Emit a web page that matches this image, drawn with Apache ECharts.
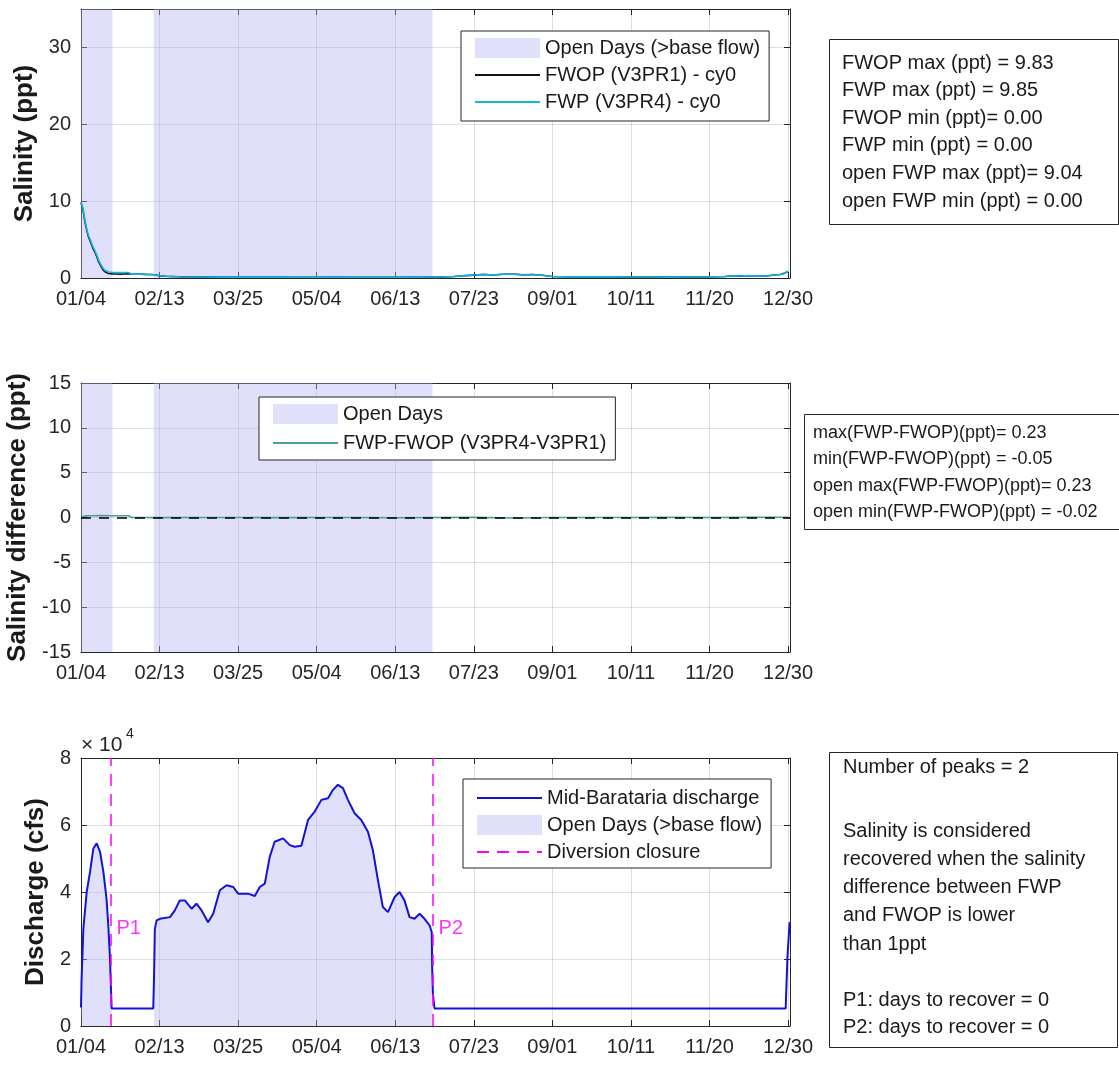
<!DOCTYPE html>
<html><head><meta charset="utf-8">
<script src="https://cdn.jsdelivr.net/npm/echarts@6/dist/echarts.min.js"></script>
<style>html,body{margin:0;padding:0;background:#fff}#c{width:1119px;height:1067px}</style>
</head><body><div id="c"></div><script>
// ---------------- DATA ----------------
const tickLabels = ['01/04','02/13','03/25','05/04','06/13','07/23','09/01','10/11','11/20','12/30'];
// days counted from 01/04
const openStart = [0, 37];
const openEnd = [16, 179];
const closureDays = [15, 179];
const peakNames = ['P1', 'P2'];

const salDays = [0,1,2,3,4,5,6,7,8,9,10,11,12,13,14,15,16,18,20,22,24,26,28,30,33,36,38,40,43,46,50,60,70,80,90,100,110,120,130,140,150,160,170,180,185,190,195,200,205,210,215,220,225,230,235,240,250,260,270,280,290,300,310,320,328,332,336,340,345,350,353,356,358,360];
const fwopVals = [9.83,8.9,7.3,6.1,5.2,4.6,3.9,3.4,2.8,2.1,1.6,1.15,0.85,0.65,0.58,0.55,0.54,0.52,0.5,0.53,0.55,0.5,0.48,0.5,0.47,0.45,0.38,0.3,0.22,0.2,0.16,0.14,0.12,0.12,0.11,0.12,0.1,0.1,0.11,0.1,0.1,0.1,0.12,0.13,0.14,0.2,0.3,0.38,0.45,0.4,0.48,0.5,0.42,0.45,0.35,0.2,0.15,0.14,0.14,0.13,0.13,0.12,0.13,0.14,0.2,0.3,0.25,0.3,0.25,0.3,0.4,0.45,0.6,0.85];
const fwpVals  = [9.85,9.05,7.5,6.3,5.4,4.8,4.1,3.6,3.0,2.3,1.8,1.35,1.05,0.85,0.78,0.75,0.73,0.71,0.7,0.72,0.72,0.5,0.48,0.5,0.47,0.45,0.37,0.3,0.22,0.2,0.16,0.13,0.12,0.12,0.11,0.11,0.1,0.1,0.11,0.1,0.1,0.09,0.12,0.13,0.14,0.2,0.31,0.4,0.47,0.4,0.5,0.52,0.4,0.45,0.33,0.2,0.15,0.14,0.14,0.13,0.13,0.12,0.13,0.14,0.2,0.3,0.26,0.31,0.25,0.3,0.4,0.46,0.62,0.87];

const diffDays = [0,2,5,10,15,20,24,25,26,30,40,60,80,100,120,140,160,180,200,220,240,260,280,300,320,340,360];
const diffVals = [0.02,0.18,0.2,0.23,0.2,0.2,0.19,0.1,0.0,0.0,-0.01,0.0,0.0,-0.01,0.0,0.0,-0.02,0.0,0.01,-0.05,0.0,0.0,0.0,0.01,0.0,0.01,0.02];

const dischargeDays = [0,0.3,1.2,2.9,4.6,6.3,8,9.7,11.4,13,13.9,14.7,15.6,36.8,37.2,37.6,38.5,40.2,45.3,47.8,50.3,52.9,56.3,58.8,61.4,64.7,67.3,70.7,74.1,77.5,80,85.1,88.5,91,93.6,96.1,98.6,102.9,106.3,108.8,112.2,115.6,119,122.4,125.8,128.3,130.8,133.4,135.9,139.3,142.7,146.1,148.6,151.2,153.7,156.3,159.7,162.2,164.7,167.3,169.8,172.4,174.9,177.5,178.6,178.8,179.2,180,358.8,359.7,360.8];
const dischargeVals = [5500,14000,29000,40000,46000,53000,54500,52000,46000,38000,30000,21000,5200,5200,15000,29000,31500,32000,32500,34500,37500,37500,35000,36500,34500,31000,33500,40500,42000,41500,39500,39500,38800,41500,42500,50500,55000,56000,54000,53500,53800,61500,64000,67500,68000,70500,72000,71000,67500,63500,61500,58000,52500,43500,35500,34000,38500,40000,37500,32500,32000,33500,32000,30000,28000,17500,9500,5200,5200,20500,31000];

const box1Lines = ['FWOP max (ppt) = 9.83','FWP max (ppt) = 9.85','FWOP min (ppt)= 0.00','FWP min (ppt) = 0.00','open FWP max (ppt)= 9.04','open FWP min (ppt) = 0.00'];
const box2Lines = ['max(FWP-FWOP)(ppt)= 0.23','min(FWP-FWOP)(ppt) = -0.05','open max(FWP-FWOP)(ppt)= 0.23','open min(FWP-FWOP)(ppt) = -0.02'];
const box3Head = ['Number of peaks = 2'];
const box3Body = ['Salinity is considered','recovered when the salinity','difference between FWP','and FWOP is lower','than 1ppt'];
const box3Tail = ['P1: days to recover = 0','P2: days to recover = 0'];

// ---------------- STYLE ----------------
const FONT = '"Liberation Sans", Arial, Helvetica, sans-serif';
const axisColor = '#262626';
const gridColor = 'rgba(38,38,38,0.15)';
const shadeColor = 'rgba(178,178,242,0.4)';
const shadeLegend = '#e0e0fa';
const xMax = 361;
const grids = [
  {left: 81, top: 9, width: 709, height: 269, outerBoundsMode: 'none', containLabel: false},
  {left: 81, top: 383, width: 709, height: 269, outerBoundsMode: 'none', containLabel: false},
  {left: 81, top: 758, width: 709, height: 268, outerBoundsMode: 'none', containLabel: false}
];
const zip = (a, b) => a.map((d, i) => [d, b[i]]);

function xAxesFor(gi) {
  return [
    {type: 'value', gridIndex: gi, min: 0, max: xMax, interval: 40, position: 'bottom',
     axisLine: {onZero: false, lineStyle: {color: axisColor, width: 1}},
     axisTick: {inside: true, length: 6, lineStyle: {color: axisColor}},
     axisLabel: {margin: 11, fontSize: 20, color: axisColor, fontFamily: FONT,
       formatter: v => (v % 40 === 0 && tickLabels[v / 40] !== undefined) ? tickLabels[v / 40] : ''},
     splitLine: {show: true, lineStyle: {color: gridColor, width: 1}}},
    {type: 'value', gridIndex: gi, min: 0, max: xMax, interval: 40, position: 'top',
     axisLine: {onZero: false, lineStyle: {color: axisColor, width: 1}},
     axisTick: {inside: true, length: 6, lineStyle: {color: axisColor}},
     axisLabel: {show: false}, splitLine: {show: false}}
  ];
}
function yAxesFor(gi, min, max, interval, name, nameGap, fmt) {
  return [
    {type: 'value', gridIndex: gi, min, max, interval, position: 'left',
     name, nameLocation: 'middle', nameGap,
     nameTextStyle: {fontSize: 26, fontWeight: 'bold', color: '#1a1a1a', fontFamily: FONT},
     axisLine: {show: true, onZero: false, lineStyle: {color: axisColor, width: 1}},
     axisTick: {show: true, inside: true, length: 6, lineStyle: {color: axisColor}},
     axisLabel: {margin: 10, fontSize: 20, color: axisColor, fontFamily: FONT,
       formatter: v => ((v - min) % interval === 0) ? (fmt ? fmt(v) : String(v)) : ''},
     splitLine: {show: true, lineStyle: {color: gridColor, width: 1}}},
    {type: 'value', gridIndex: gi, min, max, interval, position: 'right',
     axisLine: {show: true, onZero: false, lineStyle: {color: axisColor, width: 1}},
     axisTick: {show: true, inside: true, length: 6, lineStyle: {color: axisColor}},
     axisLabel: {show: false}, splitLine: {show: false}}
  ];
}

const xAxis = [].concat(xAxesFor(0), xAxesFor(1), xAxesFor(2));
const yAxis = [].concat(
  yAxesFor(0, 0, 35, 10, 'Salinity (ppt)', 42),
  yAxesFor(1, -15, 15, 5, 'Salinity difference (ppt)', 43),
  yAxesFor(2, 0, 80000, 20000, 'Discharge (cfs)', 28, v => String(v / 10000))
);

const openAreas = openStart.map((s, i) => [{xAxis: s}, {xAxis: openEnd[i]}]);

// open-days fill under the discharge curve
const openFill = [];
openStart.forEach((s, k) => {
  dischargeDays.forEach((d, i) => {
    if (d >= s && d <= openEnd[k]) openFill.push([d, dischargeVals[i]]);
  });
  openFill.push([openEnd[k] + 0.5, null]);
});

const labelY = 29000;
const hideSym = {opacity: 0};

const series = [
  // plot 1
  {name: 'Open Days (>base flow)', type: 'line', xAxisIndex: 0, yAxisIndex: 0, data: [], symbol: 'none',
   itemStyle: {color: shadeLegend}, lineStyle: {width: 0},
   markArea: {silent: true, itemStyle: {color: shadeColor}, data: openAreas}},
  {name: 'FWOP (V3PR1) - cy0', type: 'line', xAxisIndex: 0, yAxisIndex: 0, data: zip(salDays, fwopVals),
   symbol: 'none', lineStyle: {color: '#111111', width: 1.6}, itemStyle: {color: '#111111'}, z: 3},
  {name: 'FWP (V3PR4) - cy0', type: 'line', xAxisIndex: 0, yAxisIndex: 0, data: zip(salDays, fwpVals),
   symbol: 'none', lineStyle: {color: '#12b4e8', width: 1.6}, itemStyle: {color: '#12b4e8'}, z: 4},
  // plot 2
  {name: 'Open Days', type: 'line', xAxisIndex: 2, yAxisIndex: 2, data: [], symbol: 'none',
   itemStyle: {color: shadeLegend}, lineStyle: {width: 0},
   markArea: {silent: true, itemStyle: {color: shadeColor}, data: openAreas}},
  {name: 'FWP-FWOP (V3PR4-V3PR1)', type: 'line', xAxisIndex: 2, yAxisIndex: 2, data: zip(diffDays, diffVals),
   symbol: 'none', lineStyle: {color: '#4a9f96', width: 1.6}, itemStyle: {color: '#4a9f96'}, z: 3,
   markLine: {silent: true, symbol: 'none', label: {show: false},
     lineStyle: {color: '#000', type: [10, 8], width: 1.5}, data: [{yAxis: 0}]}},
  // plot 3
  {name: 'Open Days (>base flow)', type: 'line', xAxisIndex: 4, yAxisIndex: 4, data: openFill, symbol: 'none',
   connectNulls: false, lineStyle: {width: 0}, itemStyle: {color: shadeLegend},
   areaStyle: {color: shadeColor, opacity: 1}, z: 1},
  {name: 'Mid-Barataria discharge', type: 'line', xAxisIndex: 4, yAxisIndex: 4, data: zip(dischargeDays, dischargeVals),
   symbol: 'none', lineStyle: {color: '#1212d8', width: 2}, itemStyle: {color: '#1212d8'}, z: 3},
  {name: 'Diversion closure', type: 'line', xAxisIndex: 4, yAxisIndex: 4, data: [], symbol: 'none',
   lineStyle: {color: '#ff00ff', type: [12, 8], width: 1.5}, itemStyle: {color: '#ff00ff'},
   markLine: {silent: true, symbol: 'none', label: {show: false},
     lineStyle: {color: '#ff00ff', type: [12, 8], width: 1.5},
     data: closureDays.map(d => ({xAxis: d}))}},
  {name: 'peakLabels', type: 'scatter', xAxisIndex: 4, yAxisIndex: 4, symbolSize: 0, silent: true,
   data: closureDays.map((d, i) => ({name: peakNames[i], value: [d, labelY]})),
   label: {show: true, position: 'right', distance: 6, formatter: '{b}', color: '#ff00ff', fontSize: 20, fontFamily: FONT}}
];

const legendBase = {orient: 'vertical', itemWidth: 65, itemHeight: 20, itemGap: 7, selectedMode: false,
  backgroundColor: '#fff', borderColor: axisColor, borderWidth: 1, borderRadius: 0,
  textStyle: {fontSize: 20, color: '#1a1a1a', fontFamily: FONT}};
const legend = [
  Object.assign({}, legendBase, {left: 461, top: 31, padding: [7, 9, 9, 13],
    data: [{name: 'Open Days (>base flow)', icon: 'rect', itemStyle: {color: shadeLegend}},
           {name: 'FWOP (V3PR1) - cy0', itemStyle: hideSym}, {name: 'FWP (V3PR4) - cy0', itemStyle: hideSym}]}),
  Object.assign({}, legendBase, {left: 259, top: 397, padding: [7, 9, 7, 13], itemGap: 9,
    data: [{name: 'Open Days', icon: 'rect', itemStyle: {color: shadeLegend}},
           {name: 'FWP-FWOP (V3PR4-V3PR1)', itemStyle: hideSym}]}),
  Object.assign({}, legendBase, {left: 463, top: 779, padding: [9, 9, 6, 13],
    data: [{name: 'Mid-Barataria discharge', itemStyle: hideSym},
           {name: 'Open Days (>base flow)', icon: 'rect', itemStyle: {color: shadeLegend}},
           {name: 'Diversion closure', itemStyle: hideSym}]})
];

function textBlock(lines, x, yFirstCenter, lh, size) {
  return {type: 'text', x: x, y: yFirstCenter - lh / 2, silent: true,
    style: {text: lines.join('\n'), fontSize: size, fontFamily: FONT, fill: '#1a1a1a',
      lineHeight: lh, align: 'left', verticalAlign: 'top'}};
}
const graphic = [
  {type: 'rect', shape: {x: 829.5, y: 39.5, width: 289, height: 185}, style: {fill: '#fff', stroke: axisColor, lineWidth: 1}},
  textBlock(box1Lines, 842, 63, 27.6, 20),
  {type: 'rect', shape: {x: 804.5, y: 414.5, width: 330, height: 115}, style: {fill: '#fff', stroke: axisColor, lineWidth: 1}},
  textBlock(box2Lines, 813, 433, 26.4, 18),
  {type: 'rect', shape: {x: 829.5, y: 752.5, width: 288, height: 295}, style: {fill: '#fff', stroke: axisColor, lineWidth: 1}},
  textBlock(box3Head, 843, 767, 28.3, 20),
  textBlock(box3Body, 843, 831, 28.3, 20),
  textBlock(box3Tail, 843, 1000, 27.5, 20),
  {type: 'text', x: 81, y: 745, silent: true, style: {text: '× 10', fontSize: 21, fontFamily: FONT, fill: axisColor, align: 'left', verticalAlign: 'middle'}},
  {type: 'text', x: 126, y: 734, silent: true, style: {text: '4', fontSize: 14, fontFamily: FONT, fill: axisColor, align: 'left', verticalAlign: 'middle'}}
];

const chart = echarts.init(document.getElementById('c'), null, {renderer: 'canvas'});
chart.setOption({
  animation: false,
  backgroundColor: '#fff',
  grid: grids,
  xAxis, yAxis, series, legend, graphic
});
</script></body></html>
